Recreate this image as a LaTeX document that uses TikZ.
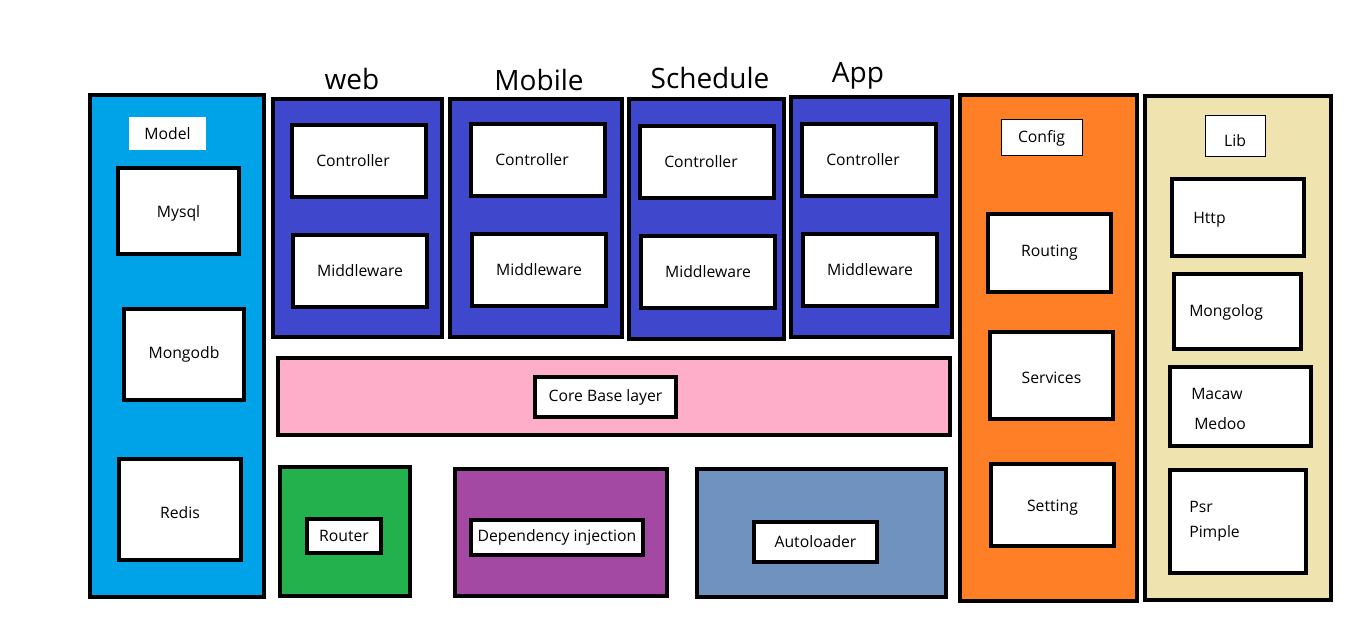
\documentclass[tikz,border=0pt]{standalone}
\usepackage{fontspec}
\setmainfont{Open Sans}
\usetikzlibrary{fit}
\definecolor{modelblue}{RGB}{0,162,232}
\definecolor{modindigo}{RGB}{63,72,204}
\definecolor{corepink}{RGB}{255,174,201}
\definecolor{routergreen}{RGB}{34,177,76}
\definecolor{dipurple}{RGB}{163,73,164}
\definecolor{autoblue}{RGB}{112,146,190}
\definecolor{cfgorange}{RGB}{255,127,39}
\definecolor{libsand}{RGB}{239,228,176}

\begin{document}
\begin{tikzpicture}[x=0.75pt,y=0.75pt,yscale=-1,xscale=1,
    panel/.style={draw, line width=3.4pt, inner sep=0pt},
    cell/.style={draw, fill=white, line width=3.4pt, inner sep=0pt},
    tag/.style={draw, fill=white, line width=0.75pt, inner sep=0pt},
    lbl/.style={inner sep=0pt, font=\fontsize{11.8}{14}\selectfont},
    head/.style={inner sep=0pt, font=\fontsize{21}{25}\selectfont},
    txt/.style={inner sep=0pt, anchor=west, yshift=-2pt, font=\fontsize{11.8}{14}\selectfont}]
    \useasboundingbox (0,0) rectangle (1363,630);

    %Shape: Model column
    \node [panel, fill=modelblue, fit={(90,95) (264,597)}] (model) {};
    \node [tag, draw=none, fit={(129,117) (206,150)}, label={[lbl]center:Model}] (modeltag) {};
    \node [cell, fit={(118,168) (239,254)}, label={[lbl,yshift=-2pt]center:Mysql}] (mysql) {};
    \node [cell, fit={(124,309) (244,400)}, label={[lbl]center:Mongodb}] (mongodb) {};
    \node [cell, fit={(119,459) (241,560)}, label={[lbl,yshift=-2pt]center:Redis}] (redis) {};

    %Shape: web module
    \node [panel, fill=modindigo, fit={(273,99) (442,337)}] (web) {};
    \node [cell, fit={(292,125) (426,197)}, label={[lbl,xshift=-4.5pt]center:Controller}] (webctrl) {};
    \node [cell, fit={(293,235) (427,307)}, label={[lbl]center:Middleware}] (webmid) {};
    %Shape: Mobile module
    \node [panel, fill=modindigo, fit={(450,99) (622,337)}] (mobile) {};
    \node [cell, fit={(471,124) (605,196)}, label={[lbl,xshift=-4.5pt]center:Controller}] (mobctrl) {};
    \node [cell, fit={(472,234) (606,306)}, label={[lbl]center:Middleware}] (mobmid) {};
    %Shape: Schedule module
    \node [panel, fill=modindigo, fit={(629,99) (784,339)}] (schedule) {};
    \node [cell, fit={(640,126) (774,198)}, label={[lbl,xshift=-4.5pt]center:Controller}] (schctrl) {};
    \node [cell, fit={(641,236) (775,308)}, label={[lbl]center:Middleware}] (schmid) {};
    %Shape: App module
    \node [panel, fill=modindigo, fit={(791,97) (952,337)}] (app) {};
    \node [cell, fit={(802,124) (936,196)}, label={[lbl,xshift=-4.5pt]center:Controller}] (appctrl) {};
    \node [cell, fit={(803,234) (937,306)}, label={[lbl]center:Middleware}] (appmid) {};

    % Text Node
    \node [head] (webhead) at (352,79) {web};
    \node [head] (mobhead) at (539,80) {Mobile};
    \node [head] (schhead) at (710,78) {Schedule};
    \node [head] (apphead) at (858,76) {App};

    %Shape: core layer
    \node [panel, fill=corepink, fit={(278,358) (950,435)}] (core) {};
    \node [cell, fit={(535,377) (676,417)}, label={[lbl]center:Core Base layer}] (coretag) {};

    %Shape: bottom blocks
    \node [panel, fill=routergreen, fit={(280,467) (410,596)}] (router) {};
    \node [cell, fit={(307,519) (381,553)}, label={[lbl]center:Router}] (routertag) {};
    \node [panel, fill=dipurple, fit={(455,469) (667,596)}] (di) {};
    \node [cell, fit={(471,520) (643,555)}, label={[lbl]center:Dependency injection}] (ditag) {};
    \node [panel, fill=autoblue, fit={(697,469) (946,597)}] (autoload) {};
    \node [cell, fit={(754,522) (877,562)}, label={[lbl]center:Autoloader}] (autotag) {};

    %Shape: Config column
    \node [panel, fill=cfgorange, fit={(960,95) (1137,601)}] (config) {};
    \node [tag, fit={(1001,120) (1082,156)}, label={[lbl]center:Config}] (configtag) {};
    \node [cell, fit={(988,214) (1111,292)}, label={[lbl]center:Routing}] (routing) {};
    \node [cell, fit={(990,332) (1113,419)}, label={[lbl,yshift=-2pt]center:Services}] (services) {};
    \node [cell, fit={(991,464) (1114,546)}, label={[lbl,yshift=-2pt]center:Setting}] (setting) {};

    %Shape: Lib column
    \node [panel, fill=libsand, fit={(1145,96) (1331,600)}] (lib) {};
    \node [tag, fit={(1205,116) (1265,157)}, label={[lbl,yshift=-3pt]center:Lib}] (libtag) {};
    \node [cell, fit={(1172,179) (1304,256)}] (http) {};
    \node [cell, fit={(1174,274) (1301,349)}] (mongolog) {};
    \node [cell, fit={(1170,367) (1311,446)}] (macaw) {};
    \node [cell, fit={(1170,470) (1306,573)}] (psr) {};

    % Text Node
    \node [txt] (httptxt) at (1193,217) {Http};
    \node [txt] (mongologtxt) at (1189,310) {Mongolog};
    \node [txt] (macawtxt) at (1191,391) {Macaw};
    \node [txt] (medootxt) at (1194,421) {Medoo};
    \node [txt] (psrtxt) at (1189,504) {Psr};
    \node [txt] (pimpletxt) at (1189,531) {Pimple};

\end{tikzpicture}
\end{document}
